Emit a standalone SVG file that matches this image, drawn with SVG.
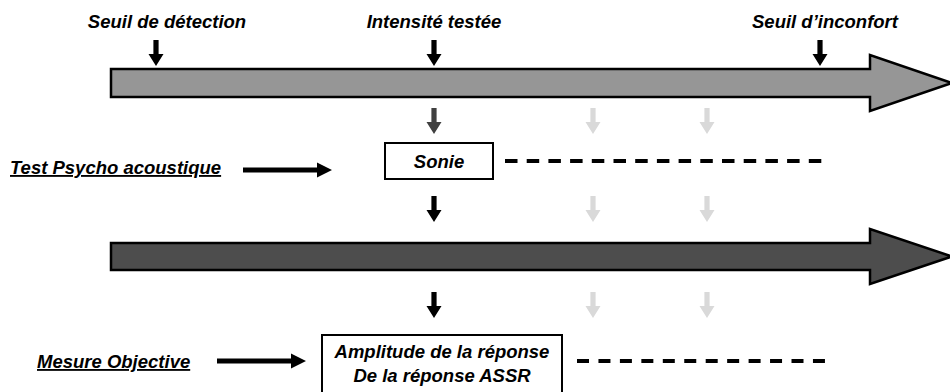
<svg xmlns="http://www.w3.org/2000/svg" xmlns:xlink="http://www.w3.org/1999/xlink" width="950" height="392" viewBox="0 0 950 392">
<style>
text{font-family:"Liberation Sans",Arial,sans-serif;font-weight:bold;font-style:italic;font-size:18.5px;fill:#000}
.mid{text-anchor:middle}
.box{fill:#fff;stroke:#000;stroke-width:2}
.big{stroke:#000;stroke-width:2.5;stroke-linejoin:miter}
.dash{stroke:#000;stroke-width:4;fill:none}
.blk{fill:#000}
.dk{fill:#404040}
.lt{fill:#d9d9d9}
</style>
<defs>
<path id="da" d="M-2.6,0 H2.6 V14 H7.5 L0,26 L-7.5,14 H-2.6 Z"/>
<path id="ra" d="M0,-2.6 H74 V-7.5 L89,0 L74,7.5 V2.6 H0 Z"/>
</defs>
<rect width="950" height="392" fill="#fff"/>

<g id="axis-top">
<path class="big" fill="#969696" d="M111,69 H870 V55 L952,83 L870,111 V97 H111 Z"/>
</g>
<g id="axis-bottom">
<path class="big" fill="#4d4d4d" d="M111,243 H870 V229 L952,256.5 L870,284 V270 H111 Z"/>
</g>

<g id="label-seuil-detection"><text class="mid" x="167" y="28">Seuil de détection</text></g>
<g id="label-intensite"><text class="mid" x="434" y="28">Intensité testée</text></g>
<g id="label-seuil-inconfort"><text class="mid" x="825" y="28">Seuil d’inconfort</text></g>

<g id="label-psycho"><text x="10" y="174" text-decoration="underline">Test Psycho acoustique</text></g>
<g id="label-mesure"><text x="37" y="368" text-decoration="underline">Mesure Objective</text></g>

<g id="sonie">
<rect class="box" x="385" y="143" width="108" height="36"/>
<text class="mid" x="439" y="168">Sonie</text>
</g>
<g id="amplitude">
<rect class="box" x="322" y="335" width="240" height="70"/>
<text class="mid" x="442" y="358">Amplitude de la réponse</text>
<text class="mid" x="442" y="382">De la réponse ASSR</text>
</g>

<g id="connectors">
<use href="#da" xlink:href="#da" class="blk" x="156" y="40"/>
<use href="#da" xlink:href="#da" class="blk" x="434" y="40"/>
<use href="#da" xlink:href="#da" class="blk" x="820" y="40"/>

<use href="#da" xlink:href="#da" class="dk" x="434" y="108"/>
<use href="#da" xlink:href="#da" class="lt" x="593" y="108"/>
<use href="#da" xlink:href="#da" class="lt" x="707" y="108"/>

<use href="#da" xlink:href="#da" class="blk" x="434" y="196"/>
<use href="#da" xlink:href="#da" class="lt" x="593" y="196"/>
<use href="#da" xlink:href="#da" class="lt" x="707" y="196"/>

<use href="#da" xlink:href="#da" class="blk" x="434" y="292"/>
<use href="#da" xlink:href="#da" class="lt" x="593" y="292"/>
<use href="#da" xlink:href="#da" class="lt" x="707" y="292"/>

<use href="#ra" xlink:href="#ra" class="blk" x="243" y="170"/>
<use href="#ra" xlink:href="#ra" class="blk" x="217" y="361"/>

<line class="dash" x1="505" y1="161" x2="822" y2="161" stroke-dasharray="12.5 9.2"/>
<line class="dash" x1="577" y1="361" x2="825" y2="361" stroke-dasharray="12 9.45"/>
</g>
</svg>
